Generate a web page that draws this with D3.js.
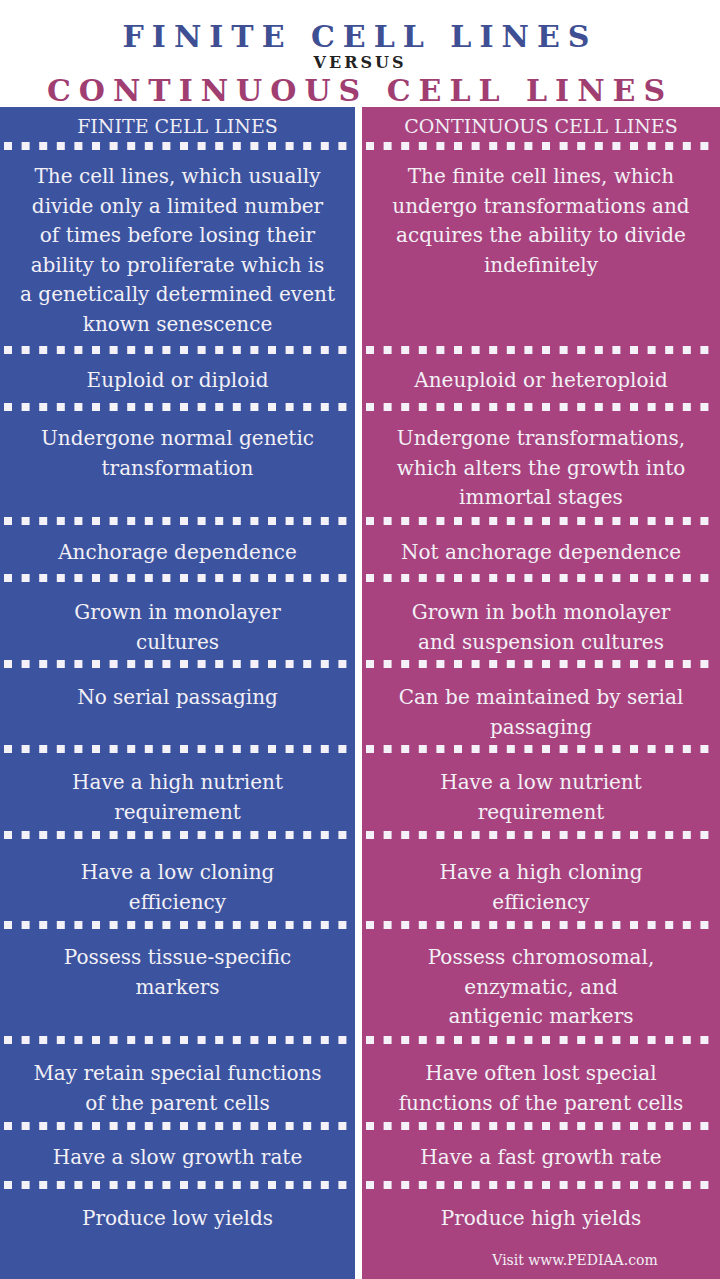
<!DOCTYPE html><html><head><meta charset="utf-8"><script src="https://cdn.jsdelivr.net/npm/d3@7"></script>
<style>body{margin:0;background:#fff} text{font-family:"DejaVu Serif","Liberation Serif",serif}</style></head><body><svg id="c" width="720" height="1279"></svg><script>
const headers=["FINITE CELL LINES","CONTINUOUS CELL LINES"];
const finite=[["The cell lines, which usually","divide only a limited number","of times before losing their","ability to proliferate which is","a genetically determined event","known senescence"],["Euploid or diploid"],["Undergone normal genetic","transformation"],["Anchorage dependence"],["Grown in monolayer","cultures"],["No serial passaging"],["Have a high nutrient","requirement"],["Have a low cloning","efficiency"],["Possess tissue-specific","markers"],["May retain special functions","of the parent cells"],["Have a slow growth rate"],["Produce low yields"]];
const continuous=[["The finite cell lines, which","undergo transformations and","acquires the ability to divide","indefinitely"],["Aneuploid or heteroploid"],["Undergone transformations,","which alters the growth into","immortal stages"],["Not anchorage dependence"],["Grown in both monolayer","and suspension cultures"],["Can be maintained by serial","passaging"],["Have a low nutrient","requirement"],["Have a high cloning","efficiency"],["Possess chromosomal,","enzymatic, and","antigenic markers"],["Have often lost special","functions of the parent cells"],["Have a fast growth rate"],["Produce high yields"]];
// layout
const sepY=[146,350,407,521,578,664,749,835,925,1040,1126,1185];
const rowTop=[175,379,437,551,611,696,781,871,956,1072,1156,1217];
const svg=d3.select("#c");
const cols=[{x0:0,x1:355,fill:"#3c54a0"},{x0:362,x1:720,fill:"#a8437f"}];
svg.append("rect").attr("width",720).attr("height",1279).attr("fill","#fff");
cols.forEach((c,i)=>{
 svg.append("rect").attr("x",c.x0).attr("y",107).attr("width",c.x1-c.x0).attr("height",1172).attr("fill",c.fill);
 const cx=(c.x0+c.x1)/2;
 svg.append("text").attr("x",cx).attr("y",133).attr("text-anchor","middle").attr("font-size",19).attr("fill","#f1eef6").text(headers[i]);
 sepY.forEach(y=>{
  const xs=d3.range(c.x0+4,c.x1-4,17.6);
  svg.selectAll(null).data(xs).enter().append("rect").attr("x",d=>d).attr("y",y-4).attr("width",8).attr("height",8).attr("fill","#f4f2f8");
 });
 const data=i===0?finite:continuous;
 data.forEach((lines,r)=>{
  const t=svg.append("text").attr("text-anchor","middle").attr("font-size",20).attr("fill","#f3f0f6").attr("letter-spacing",0);
  lines.forEach((l,k)=>t.append("tspan").attr("x",cx).attr("y",rowTop[r]+8+k*29.5).text(l));
 });
});
svg.append("text").attr("x",360).attr("y",47).attr("text-anchor","middle").attr("font-weight","bold").attr("font-size",30).attr("letter-spacing",8).attr("fill","#3f4f94").text("FINITE CELL LINES");
svg.append("text").attr("x",360).attr("y",68).attr("text-anchor","middle").attr("font-weight","bold").attr("font-size",16).attr("letter-spacing",3).attr("fill","#222").text("VERSUS");
svg.append("text").attr("x",360).attr("y",101).attr("text-anchor","middle").attr("font-weight","bold").attr("font-size",30).attr("letter-spacing",8).attr("fill","#a03e72").text("CONTINUOUS CELL LINES");
svg.append("text").attr("x",575).attr("y",1265).attr("text-anchor","middle").attr("font-size",14).attr("fill","#f3eef4").text("Visit www.PEDIAA.com");
</script></body></html>
